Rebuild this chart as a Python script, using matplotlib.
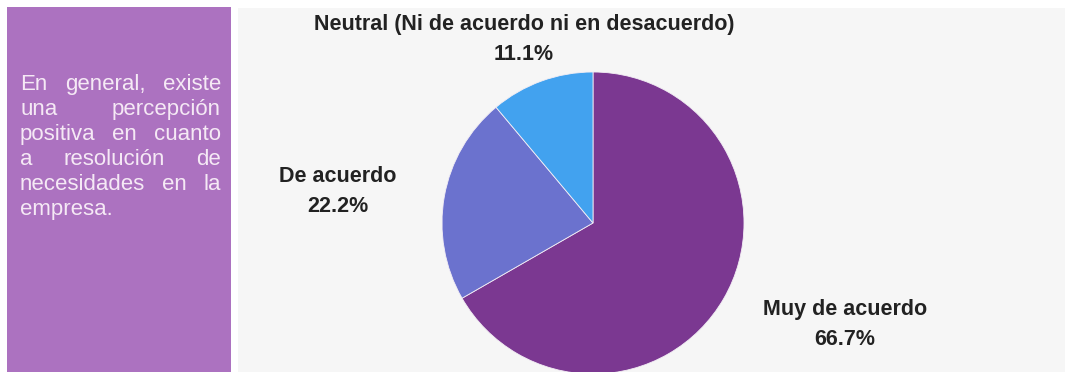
import matplotlib
matplotlib.use("Agg")
import matplotlib.pyplot as plt
from matplotlib.patches import Rectangle

# datos
categorias = ["Muy de acuerdo", "De acuerdo", "Neutral (Ni de acuerdo ni en desacuerdo)"]
porcentajes = [66.7, 22.2, 11.1]
colores = ["#7b3891", "#6b72ce", "#42a2ef"]
lineas_texto = ["En general, existe", "una percepción", "positiva en cuanto",
                "a resolución de", "necesidades en la", "empresa."]

W, H = 1065, 372
fig = plt.figure(figsize=(W / 100, H / 100), dpi=100, facecolor="white")

# fondo en pixeles
bg = fig.add_axes([0, 0, 1, 1])
bg.set_xlim(0, W)
bg.set_ylim(H, 0)
bg.axis("off")
bg.add_patch(Rectangle((238, 8), W - 238, H - 8, color="#f6f6f6", lw=0))
bg.add_patch(Rectangle((7, 7), 224, H - 7, color="#ac72c0", lw=0))

# texto justificado de la caja
r = fig.canvas.get_renderer()
x0, x1 = 20, 221
y = 90
for i, linea in enumerate(lineas_texto):
    palabras = linea.split(" ")
    ts = [bg.text(0, y, p, fontsize=16, family="Liberation Sans", color="#f5e9f5",
                  ha="left", va="baseline") for p in palabras]
    anchos = [t.get_window_extent(r).width for t in ts]
    if i == len(lineas_texto) - 1 or len(palabras) == 1:
        hueco = 0.278 * 16 * 100 / 72
    else:
        hueco = (x1 - x0 - sum(anchos)) / (len(palabras) - 1)
    x = x0
    for t, a in zip(ts, anchos):
        t.set_x(x)
        x += a + hueco
    y += 25

# pastel
cx, cy, rad = 593, 223, 151
ax = fig.add_axes([(cx - rad) / W, (H - cy - rad) / H, 2 * rad / W, 2 * rad / H])
ax.pie(porcentajes, colors=colores, startangle=90, counterclock=False,
       wedgeprops=dict(edgecolor="#f3eef5", linewidth=0.6))
ax.set_xlim(-1, 1)
ax.set_ylim(-1, 1)
ax.set_aspect("equal")
ax.axis("off")

# etiquetas
pos_etiquetas = [(845, 315), (338, 182), (524, 30)]
for cat, pct, (lx, ly) in zip(categorias, porcentajes, pos_etiquetas):
    bg.text(lx, ly, cat, fontsize=15.5, fontweight="bold", family="Liberation Sans",
            color="#222222", ha="center", va="baseline")
    bg.text(lx, ly + 30, f"{pct:.1f}%", fontsize=15.5, fontweight="bold",
            family="Liberation Sans", color="#222222", ha="center", va="baseline")

fig.savefig("out.png", dpi=100, facecolor="white")
